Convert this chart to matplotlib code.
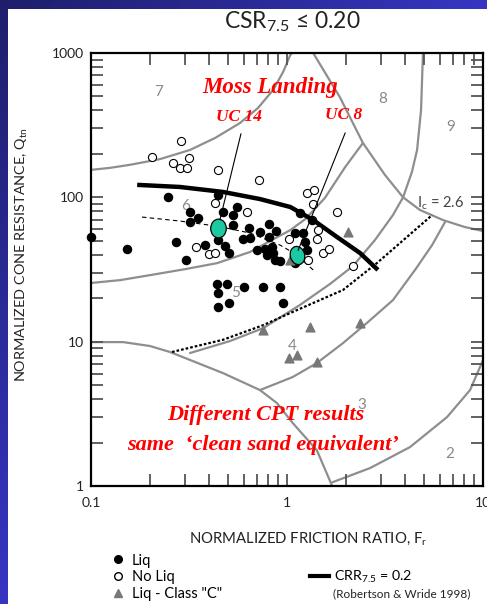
import matplotlib
matplotlib.use("Agg")
import matplotlib.pyplot as plt
import numpy as np
from matplotlib.patches import Rectangle
from matplotlib.lines import Line2D
from matplotlib.path import Path
from matplotlib.transforms import Affine2D
from matplotlib.ticker import NullFormatter

plt.rcParams['font.family'] = ['Lato', 'DejaVu Sans']
plt.rcParams['mathtext.fontset'] = 'custom'
plt.rcParams['mathtext.rm'] = 'Lato'
plt.rcParams['mathtext.it'] = 'Lato:italic'
plt.rcParams['mathtext.default'] = 'regular'

# --- data (Fr in %, Qtn) ---
liq_fr = [0.1, 0.247, 0.445, 0.320, 0.351, 0.320, 0.471, 0.530, 0.556, 0.530, 0.445, 0.483,
          0.506, 0.382, 0.271, 0.305, 0.153, 0.640, 0.728, 0.809, 0.879, 0.809, 0.597, 0.647,
          0.703, 0.773, 0.838, 0.791, 0.849, 0.869, 0.921, 0.440, 0.494, 0.445, 0.604, 0.755,
          0.921, 0.445, 0.506, 0.955, 1.10, 1.21, 1.27, 1.10, 1.16, 1.34, 1.24]
liq_q = [53, 100, 104, 79, 72, 67, 79, 75, 86, 64, 51, 46,
         41, 47, 49, 37, 44, 61, 57.5, 65, 58, 53, 51.5, 52,
         43, 44, 45, 40, 41, 37, 36, 25, 25, 21.7, 24, 24,
         24, 17.4, 18.5, 18.5, 56.6, 56.6, 43, 35, 78, 70, 49]

noliq_fr = [0.205, 0.288, 0.262, 0.284, 0.309, 0.316, 0.445, 0.720, 0.430, 0.625, 0.343, 0.400,
            0.430, 1.02, 1.27, 1.37, 1.36, 1.80, 1.44, 1.42, 1.53, 1.64, 1.28, 2.17]
noliq_q = [190, 246, 174, 160, 160, 187, 155, 132, 91, 79, 45, 40.5,
           41, 51.5, 107, 112, 90, 79, 59, 51.5, 41, 44, 37, 33.4]

classc_fr = [2.05, 0.755, 1.31, 2.36, 1.02, 1.12, 1.42, 1.04]
classc_q = [57.5, 12.0, 12.6, 13.5, 7.7, 8.1, 7.2, 37]

# Moss Landing sites
uc_names = ['UC 14', 'UC 8']
uc_fr = [0.445, 1.12]
uc_q = [61, 40]

# CRR7.5 = 0.2 curve
crr_fr = [0.172, 0.284, 0.471, 0.728, 1.04, 1.36, 1.80, 2.36, 2.91]
crr_q = [122, 118, 109, 97.3, 85.7, 69.6, 53.1, 41.1, 31.4]

# Ic = 2.6
ic_fr = [0.259, 0.471, 0.755, 1.04, 1.93, 2.88, 5.50]
ic_q = [8.48, 10.3, 13.0, 15.8, 22.8, 35.1, 75.3]

# path through the two sites
path_fr = [0.182, 0.284, 0.445, 0.647, 0.921, 1.12, 1.36]
path_q = [73, 68.5, 63, 56.6, 46.7, 40, 31.4]

# soil behaviour type zone boundaries
b76_fr = [0.1, 0.125, 0.158, 0.225, 0.320, 0.430, 0.575, 0.711, 0.849, 0.955, 1.04, 1.06]
b76_q = [155, 160, 168, 184, 213, 258, 327, 416, 554, 738, 969, 1000]
b65_fr = [0.1, 0.141, 0.2, 0.302, 0.44, 0.647, 0.819, 1.04, 1.24, 1.56, 1.98, 2.44]
b65_q = [25.5, 26.7, 28.9, 31.8, 35, 41.8, 49.8, 59.3, 70.7, 98.9, 162, 238]
b8_fr = [1.36, 1.86, 2.44, 3.16, 3.91, 4.77, 6.25, 8.09, 10.0]
b8_q = [1000, 495, 238, 143, 100, 81.7, 69.6, 62.2, 58.4]
b45_fr = [0.32, 0.512, 0.755, 1.16, 1.657, 2.17, 2.81, 3.47, 3.91, 4.34, 4.61, 4.83, 4.94]
b45_q = [8.34, 10.1, 12.4, 17.9, 25.1, 33.4, 50.6, 75.3, 100, 150, 213, 403, 1000]
b34_fr = [0.728, 1.07, 1.42, 1.93, 2.56, 3.47, 4.50, 5.50, 6.40]
b34_q = [4.62, 5.69, 7.11, 9.77, 13.5, 19.4, 31.4, 46.7, 67.4]
b23_fr = [1.70, 2.65, 4.24, 6.55, 8.59, 10.0]
b23_q = [1.06, 1.33, 1.86, 3.0, 4.62, 7.45]
b1_fr = [0.1, 0.146, 0.2, 0.253, 0.471, 0.728, 0.889, 1.07, 1.42, 1.70]
b1_q = [9.93, 9.93, 9.33, 8.48, 6.06, 4.62, 3.75, 2.73, 1.77, 1.0]

zone_labels = ['7', '8', '9', '6', '5', '4', '3', '2']
zone_fr = [0.220, 3.09, 6.87, 0.302, 0.549, 1.06, 2.42, 6.79]
zone_q = [537, 480, 307, 87, 21.7, 9.33, 3.64, 1.66]

W, H = 487, 604
fig = plt.figure(figsize=(W / 100, H / 100), dpi=100)

# slide background: blue gradient with a white panel
bg = fig.add_axes([0, 0, 1, 1], zorder=-10)
bg.axis('off')
gx, gy = np.meshgrid(np.linspace(0, 1, 200), np.linspace(0, 1, 200))
t = np.clip(0.9 * gx + 0.9 * gy, 0, 1)[..., None]
dark = np.array([0.12, 0.12, 0.42])
bright = np.array([0.22, 0.22, 0.80])
bg.imshow(dark + (bright - dark) * t, extent=[0, 1, 0, 1], aspect='auto', origin='upper')
fig.add_artist(Rectangle((8 / W, 0), 1 - 8 / W, 1 - 9 / H, transform=fig.transFigure,
                         facecolor='white', edgecolor='none', zorder=-5))

ax = fig.add_axes([91 / W, 1 - 486 / H, (483 - 91) / W, (486 - 53) / H])
ax.set_xscale('log')
ax.set_yscale('log')
ax.set_xlim(0.1, 10)
ax.set_ylim(1, 1000)

grey = '#8e8e8e'
for bx, by in [(b76_fr, b76_q), (b65_fr, b65_q), (b8_fr, b8_q), (b45_fr, b45_q),
               (b34_fr, b34_q), (b23_fr, b23_q), (b1_fr, b1_q)]:
    ax.plot(bx, by, color=grey, lw=1.6, zorder=1, solid_capstyle='round')

for lab, zx, zy in zip(zone_labels, zone_fr, zone_q):
    ax.text(zx, zy, lab, color='#8a8a8a', fontsize=11, ha='center', va='center', zorder=1)

ax.plot(ic_fr, ic_q, color='black', lw=1.6, ls=(0, (1.2, 0.9)), zorder=3)
ax.text(4.61, 91.3, r'I$_c$ = 2.6', color='#444444', fontsize=10.5, ha='left', va='center')

crr, = ax.plot(crr_fr, crr_q, color='black', lw=3.2, zorder=4, solid_capstyle='butt')

ax.plot(path_fr, path_q, color='black', lw=0.8, ls=(0, (4, 3)), zorder=3)

liq = ax.scatter(liq_fr, liq_q, s=34, color='black', zorder=5, clip_on=False)
noliq = ax.scatter(noliq_fr, noliq_q, s=34, facecolor='white', edgecolor='black', lw=0.8, zorder=5)
clc = ax.scatter(classc_fr, classc_q, s=40, marker='^', color='#777777', zorder=5)

# site markers and callouts
ell14 = Path.unit_circle().transformed(Affine2D().scale(0.83, 1.0))
ell8 = Path.unit_circle().transformed(Affine2D().scale(0.78, 1.0).rotate_deg(15))
for fx, qy, mk in zip(uc_fr, uc_q, [ell14, ell8]):
    ax.plot(fx, qy, marker=mk, ms=13.5, mfc='#1dc9a0', mec='black', mew=0.9, ls='none', zorder=6)
ax.plot([0.582, 0.455], [275, 70], color='black', lw=0.8, zorder=6)
ax.plot([1.98, 1.14], [279, 43], color='black', lw=0.8, zorder=6)

red = dict(color='red', family='Liberation Serif', weight='bold', style='italic')
ax.text(0.819, 581, 'Moss Landing', fontsize=16.5, ha='center', va='center', **red)
ax.text(0.569, 360, uc_names[0], fontsize=12.5, ha='center', va='center', **red)
ax.text(1.95, 371, uc_names[1], fontsize=12.5, ha='center', va='center', **red)
ax.text(0.782, 3.10, 'Different CPT results', fontsize=16, ha='center', va='center', **red)
ax.text(0.754, 1.92, 'same  \u2018clean sand equivalent\u2019', fontsize=16, ha='center',
        va='center', **red)

# axes style
for sp in ax.spines.values():
    sp.set_linewidth(1.6)
ax.tick_params(which='both', direction='in', length=8.5, width=1.3, color='#555555',
               top=True, right=True, labelsize=10, labelcolor='#222222')
ax.tick_params(axis='x', which='major', pad=8)
ax.tick_params(axis='y', which='major', pad=5)
ax.set_xticks([0.1, 1, 10])
ax.set_xticklabels(['0.1', '1', '10'])
ax.set_yticks([1, 10, 100, 1000])
ax.set_yticklabels(['1', '10', '100', '1000'])
ax.xaxis.set_minor_formatter(NullFormatter())
ax.yaxis.set_minor_formatter(NullFormatter())

fig.text(292 / W, 1 - 22 / H, r'CSR$_{7.5}$' + ' \u2264 0.20', fontsize=16.5, color='#222222',
         ha='center', va='center')
fig.text(308 / W, 1 - 539 / H, r'NORMALIZED FRICTION RATIO, F$_r$', fontsize=10.7,
         color='#222222', ha='center', va='center')
fig.text(22 / W, 1 - 255 / H, r'NORMALIZED CONE RESISTANCE, Q$_{tn}$', fontsize=10.4,
         color='#222222', ha='center', va='center', rotation=90)

# legends
fig.legend([Line2D([], [], marker='o', color='black', ls='none', ms=5.5),
            Line2D([], [], marker='o', mfc='white', mec='black', ls='none', ms=5.5),
            Line2D([], [], marker='^', color='#777777', ls='none', ms=6)],
           ['Liq', 'No Liq', 'Liq - Class "C"'],
           loc='upper left', bbox_to_anchor=(110.7 / W, 1 - 553.5 / H), frameon=False,
           fontsize=10.5, handlelength=1.0, handletextpad=0.45, labelspacing=0.2,
           borderpad=0, borderaxespad=0)
fig.legend([Line2D([], [], color='black', lw=3)], [r'CRR$_{7.5}$ = 0.2'],
           loc='center left', bbox_to_anchor=(310 / W, 1 - 577 / H), frameon=False,
           fontsize=10.3, handlelength=1.3, handletextpad=0.36, borderpad=0, borderaxespad=0)
fig.text(333 / W, 1 - 594 / H, '(Robertson & Wride 1998)', fontsize=8.5, color='#222222',
         ha='left', va='center')

fig.savefig('out.png', dpi=100)
